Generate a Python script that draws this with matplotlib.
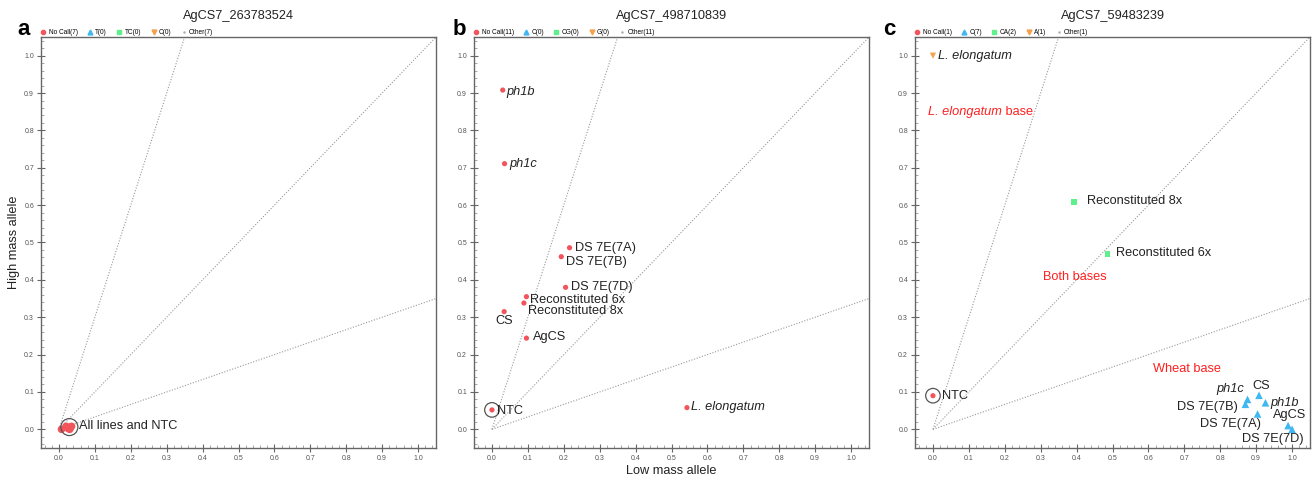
import matplotlib
matplotlib.use("Agg")
import matplotlib.pyplot as plt
from matplotlib.lines import Line2D
from matplotlib.ticker import MultipleLocator

plt.rcParams['font.family'] = ['Liberation Sans', 'DejaVu Sans']

RED = '#f2545b'
BLUE = '#3fb7f0'
GREEN = '#5ef08c'
ORANGE = '#f5a04a'
TXT = '#222222'
ANN = '#ff2020'

# ---------------- data ----------------
titles = ['AgCS7_263783524', 'AgCS7_498710839', 'AgCS7_59483239']
panel_letters = ['a', 'b', 'c']
legend_labels = [
    ['No Call(7)', 'T(0)', 'TC(0)', 'C(0)', 'Other(7)'],
    ['No Call(11)', 'C(0)', 'CG(0)', 'G(0)', 'Other(11)'],
    ['No Call(1)', 'C(7)', 'CA(2)', 'A(1)', 'Other(1)'],
]
guide_slopes = [3.0, 1.0, 1.0 / 3.0]

# panel a: all points cluster near origin (No Call)
a_x = [0.007, 0.020, 0.026, 0.030, 0.035, 0.028, 0.032]
a_y = [0.000, 0.008, 0.002, 0.000, 0.008, 0.005, 0.004]
a_ntc = (0.029, 0.006)

# panel b: No Call points
b_names = ['ph1b', 'ph1c', 'DS 7E(7A)', 'DS 7E(7B)', 'DS 7E(7D)',
           'Reconstituted 6x', 'Reconstituted 8x', 'CS', 'AgCS', 'NTC', 'L. elongatum']
b_x = [0.030, 0.035, 0.216, 0.193, 0.205, 0.096, 0.089, 0.034, 0.096, 0.000, 0.543]
b_y = [0.908, 0.711, 0.486, 0.462, 0.380, 0.355, 0.338, 0.315, 0.244, 0.052, 0.058]

# panel c
c_blue_names = ['ph1c', 'DS 7E(7B)', 'CS', 'ph1b', 'DS 7E(7A)', 'AgCS', 'DS 7E(7D)']
c_blue_x = [0.876, 0.870, 0.908, 0.926, 0.904, 0.989, 1.000]
c_blue_y = [0.080, 0.067, 0.091, 0.071, 0.041, 0.010, 0.000]
c_green_names = ['Reconstituted 8x', 'Reconstituted 6x']
c_green_x = [0.394, 0.486]
c_green_y = [0.608, 0.469]
c_orange_names = ['L. elongatum']
c_orange_x = [0.0]
c_orange_y = [1.0]
c_ntc = (0.0, 0.090)

# ---------------- figure ----------------
fig = plt.figure(figsize=(13.14, 4.8), dpi=100)
lefts = [41 / 1314, 474 / 1314, 915 / 1314]
bottom = 32 / 480
height = 411 / 480
width = 395 / 1314
axes = [fig.add_axes([l, bottom, width, height]) for l in lefts]
letter_x = [-0.061, -0.053, -0.081]

italic_names = {'ph1b', 'ph1c', 'L. elongatum'}


def style(ax, i):
    ax.set_xlim(-0.05, 1.05)
    ax.set_ylim(-0.05, 1.05)
    for s in ax.spines.values():
        s.set_color('#666666')
        s.set_linewidth(1.0)
    ax.xaxis.set_major_locator(MultipleLocator(0.1))
    ax.yaxis.set_major_locator(MultipleLocator(0.1))
    ax.xaxis.set_minor_locator(MultipleLocator(0.02))
    ax.yaxis.set_minor_locator(MultipleLocator(0.02))
    ax.tick_params(which='major', direction='inout', length=6, width=0.8,
                   color='#666666', labelsize=5, labelcolor='#555555', pad=2)
    ax.tick_params(which='minor', direction='in', length=2.5, width=0.6, color='#999999')
    ax.xaxis.set_major_formatter(plt.FuncFormatter(lambda v, p: f'{v:.1f}'))
    ax.yaxis.set_major_formatter(plt.FuncFormatter(lambda v, p: f'{v:.1f}'))
    for k in guide_slopes:
        xe = min(1.05, 1.05 / k)
        ax.plot([0, xe], [0, k * xe], ls=(0, (1, 1.5)), color='#999999', lw=0.8, zorder=1)
    ax.set_title(titles[i], fontsize=9.2, color=TXT, pad=13)
    ax.text(letter_x[i], 1.005, panel_letters[i], transform=ax.transAxes, fontsize=16,
            fontweight='bold', ha='left', va='baseline')
    handles = [
        Line2D([], [], marker='o', ls='', color=RED, markersize=3),
        Line2D([], [], marker='^', ls='', color=BLUE, markersize=3.5),
        Line2D([], [], marker='s', ls='', color=GREEN, markersize=3),
        Line2D([], [], marker='v', ls='', color=ORANGE, markersize=3.5),
        Line2D([], [], marker='.', ls='', color='#aaaaaa', markersize=1.5),
    ]
    ax.legend(handles, legend_labels[i], loc='lower left', bbox_to_anchor=(-0.012, 0.995),
              ncol=5, frameon=False, fontsize=4.7, handletextpad=0.2,
              columnspacing=1.3, borderaxespad=0.1, handlelength=1.2)


def ring(ax, x, y, s=110):
    ax.scatter([x], [y], s=s, facecolors='none', edgecolors='#555555', linewidths=0.9, zorder=4)


def lab(ax, x, y, t, dx=0.0, dy=0.0, ha='left', va='center', color=TXT, size=9.2):
    style_ = 'italic' if t in italic_names else 'normal'
    ax.text(x + dx, y + dy, t, ha=ha, va=va, fontsize=size, color=color, fontstyle=style_, zorder=5)


# panel a
ax = axes[0]
style(ax, 0)
ax.scatter(a_x, a_y, s=30, color=RED, zorder=3, edgecolors='none')
ring(ax, a_ntc[0], a_ntc[1], s=150)
ax.text(0.055, 0.008, 'All lines and NTC', fontsize=9.2, color=TXT, va='center', ha='left')
ax.set_ylabel('High mass allele', fontsize=9.2, color=TXT)
ax.yaxis.set_label_coords(-0.052, 0.5)

# panel b
ax = axes[1]
style(ax, 1)
ax.scatter(b_x, b_y, s=14, color=RED, zorder=3, edgecolors='none')
offsets_b = {
    'ph1b': (0.011, -0.004, 'left', 'center'),
    'ph1c': (0.013, 0.0, 'left', 'center'),
    'DS 7E(7A)': (0.015, 0.0, 'left', 'center'),
    'DS 7E(7B)': (0.012, -0.014, 'left', 'center'),
    'DS 7E(7D)': (0.015, 0.002, 'left', 'center'),
    'Reconstituted 6x': (0.010, -0.008, 'left', 'center'),
    'Reconstituted 8x': (0.011, -0.021, 'left', 'center'),
    'CS': (0.001, -0.024, 'center', 'center'),
    'AgCS': (0.018, 0.004, 'left', 'center'),
    'NTC': (0.014, -0.002, 'left', 'center'),
    'L. elongatum': (0.01, 0.001, 'left', 'center'),
}
for n, x, y in zip(b_names, b_x, b_y):
    dx, dy, ha, va = offsets_b[n]
    lab(ax, x, y, n, dx, dy, ha, va)
ring(ax, b_x[b_names.index('NTC')], b_y[b_names.index('NTC')])
ax.set_xlabel('Low mass allele', fontsize=9.2, color=TXT, labelpad=2)

# panel c
ax = axes[2]
style(ax, 2)
ax.scatter([c_ntc[0]], [c_ntc[1]], s=14, color=RED, zorder=3, edgecolors='none')
ring(ax, c_ntc[0], c_ntc[1])
lab(ax, c_ntc[0], c_ntc[1], 'NTC', 0.025, 0.0)
ax.scatter(c_blue_x, c_blue_y, s=30, marker='^', color=BLUE, zorder=3, edgecolors='none')
ax.scatter(c_green_x, c_green_y, s=18, marker='s', color=GREEN, zorder=3, edgecolors='none')
ax.scatter(c_orange_x, c_orange_y, s=20, marker='v', color=ORANGE, zorder=3, edgecolors='none')
offsets_c = {
    'ph1c': (-0.048, 0.029, 'center', 'center'),
    'DS 7E(7B)': (-0.021, -0.007, 'right', 'center'),
    'CS': (0.007, 0.025, 'center', 'center'),
    'ph1b': (0.013, 0.0, 'left', 'center'),
    'DS 7E(7A)': (-0.076, -0.027, 'center', 'center'),
    'AgCS': (0.004, 0.027, 'center', 'center'),
    'DS 7E(7D)': (-0.054, -0.026, 'center', 'center'),
    'Reconstituted 8x': (0.035, 0.004, 'left', 'center'),
    'Reconstituted 6x': (0.025, 0.004, 'left', 'center'),
    'L. elongatum': (0.015, 0.0, 'left', 'center'),
}
for names, xs, ys in [(c_blue_names, c_blue_x, c_blue_y),
                      (c_green_names, c_green_x, c_green_y),
                      (c_orange_names, c_orange_x, c_orange_y)]:
    for n, x, y in zip(names, xs, ys):
        dx, dy, ha, va = offsets_c[n]
        lab(ax, x, y, n, dx, dy, ha, va)

t1 = ax.text(-0.013, 0.85, 'L. elongatum', fontsize=9.2, color=ANN, va='center', ha='left',
             fontstyle='italic')
fig.canvas.draw()
bb = t1.get_window_extent(fig.canvas.get_renderer())
x_end = ax.transData.inverted().transform((bb.x1, bb.y0))[0]
ax.text(x_end, 0.85, ' base', fontsize=9.2, color=ANN, va='center', ha='left')
ax.text(0.307, 0.408, 'Both bases', fontsize=9.2, color=ANN, va='center', ha='left')
ax.text(0.614, 0.161, 'Wheat base', fontsize=9.2, color=ANN, va='center', ha='left')

fig.savefig('out.png', dpi=100)
